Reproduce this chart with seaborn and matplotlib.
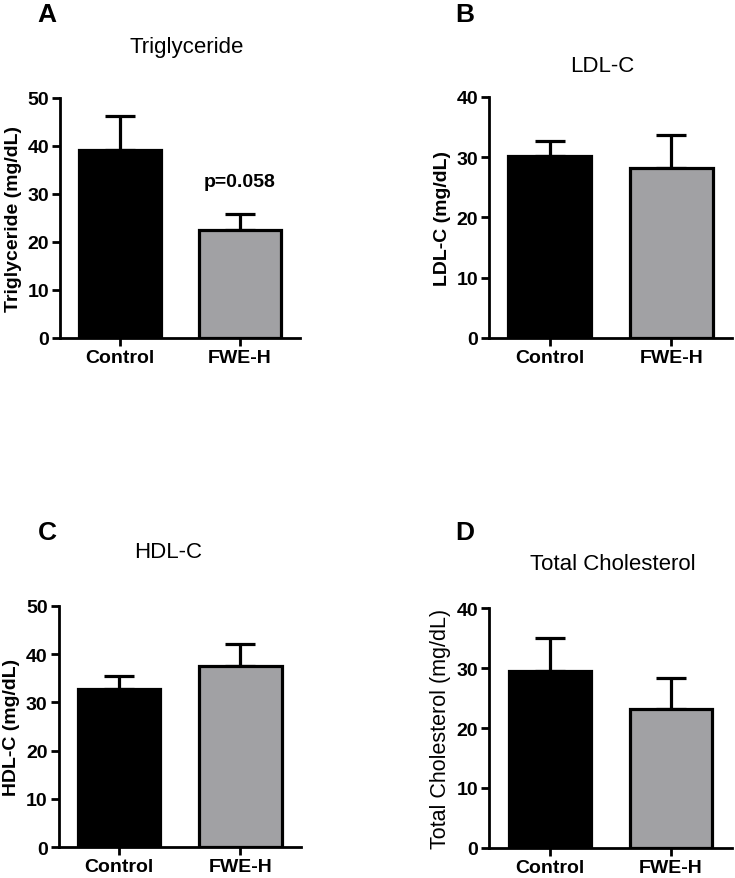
import numpy as np
import pandas as pd
import seaborn as sns
import matplotlib.pyplot as plt

groups = ["Control", "FWE-H"]

tg_mean = [39.2, 22.4]
tg_err = [7.0, 3.5]

ldl_mean = [30.2, 28.2]
ldl_err = [2.5, 5.4]

hdl_mean = [32.7, 37.5]
hdl_err = [2.8, 4.5]

tc_mean = [29.5, 23.2]
tc_err = [5.5, 5.2]

panels = [
    ("A", "Triglyceride", "Triglyceride (mg/dL)", tg_mean, tg_err, 50, "bold", 14),
    ("B", "LDL-C", "LDL-C (mg/dL)", ldl_mean, ldl_err, 40, "bold", 14),
    ("C", "HDL-C", "HDL-C (mg/dL)", hdl_mean, hdl_err, 50, "bold", 14),
    ("D", "Total Cholesterol", "Total Cholesterol (mg/dL)", tc_mean, tc_err, 40, "normal", 15.5),
]

sns.set_style("ticks")
plt.rcParams['font.family'] = ['Liberation Sans', 'DejaVu Sans']
plt.rcParams['text.color'] = 'black'
plt.rcParams['axes.labelcolor'] = 'black'
plt.rcParams['xtick.color'] = 'black'
plt.rcParams['ytick.color'] = 'black'

W, H = 735, 879
fig = plt.figure(figsize=(W / 100, H / 100), dpi=100)

# axes boxes in pixels: left, right, top, bottom
boxes = [(60, 300, 99, 339), (489, 732, 97.7, 339),
         (58.7, 301, 606.7, 848.3), (489.3, 731.7, 609, 849)]
letter_pos = [(47, 15), (465, 15), (47, 533), (465, 533)]
title_pos = [(187, 47), (602, 67), (168, 553), (613, 565)]

palette = {"Control": "#000000", "FWE-H": "#a0a0a5"}

for i, (letter, title, ylabel, means, errs, ymax, ylw, yls) in enumerate(panels):
    l, r, t, b = boxes[i]
    ax = fig.add_axes([l / W, 1 - b / H, (r - l) / W, (b - t) / H])
    df = pd.DataFrame({"group": groups, "value": means})
    ax.errorbar(range(len(groups)), means, yerr=[[0] * len(errs), errs],
                fmt="none", ecolor="black", elinewidth=2.3, capsize=10.8,
                capthick=2.3, zorder=1, clip_on=False)
    sns.barplot(data=df, x="group", y="value", hue="group", palette=palette,
                width=0.68, edgecolor="black", linewidth=2.3, legend=False,
                ax=ax, zorder=2)
    for p in ax.patches:
        p.set_zorder(2)
    ax.set_xlim(-0.5, 1.5)
    ax.set_ylim(0, ymax)
    ax.set_yticks(np.arange(0, ymax + 1, 10))
    ax.set_xlabel("")
    ax.set_ylabel(ylabel, fontsize=yls, fontweight=ylw, labelpad=4, color="black")
    for lab in ax.get_xticklabels() + ax.get_yticklabels():
        lab.set_fontweight("bold")
        lab.set_fontsize(14)
        lab.set_color("black")
    ax.tick_params(axis="both", direction="out", length=6, width=2, pad=2,
                   colors="black")
    sns.despine(ax=ax)
    for s in ["left", "bottom"]:
        ax.spines[s].set_linewidth(2)
        ax.spines[s].set_color("black")
    ax.set_facecolor("white")

    fig.text(letter_pos[i][0] / W, 1 - letter_pos[i][1] / H, letter,
             fontsize=19, fontweight="bold", ha="center", va="center",
             color="black")
    fig.text(title_pos[i][0] / W, 1 - title_pos[i][1] / H, title,
             fontsize=16, ha="center", va="center", color="black")

    if letter == "A":
        ax.text(1, 32.5, "p=0.058", fontsize=14, fontweight="bold",
                ha="center", va="center", color="black")

fig.savefig("out.png", dpi=100, facecolor="white")
